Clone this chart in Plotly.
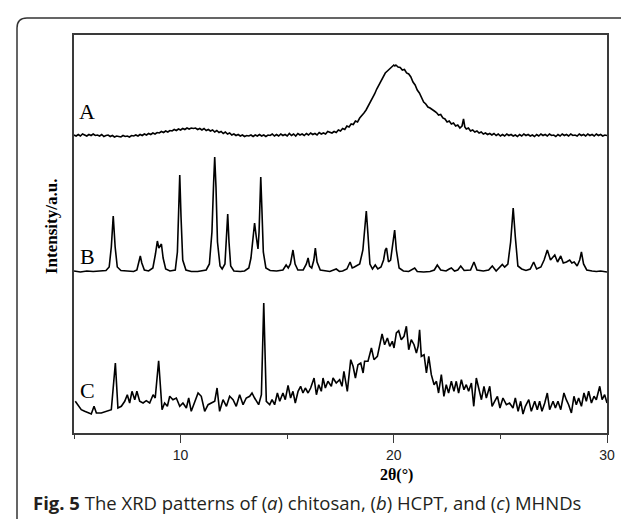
import plotly.graph_objects as go

# ---------------- data ----------------
# Pattern A (chitosan): 2theta and relative intensity above its own baseline
a_2theta = [5.0, 5.1, 5.2, 5.3, 5.4, 5.5, 5.6, 5.7, 5.8, 5.9, 6.0, 6.1, 6.2, 6.3, 6.4, 6.5, 6.6, 6.7, 6.8, 6.9,
            7.0, 7.1, 7.2, 7.3, 7.4, 7.5, 7.6, 7.7, 7.8, 7.9, 8.0, 8.1, 8.2, 8.3, 8.4, 8.5, 8.6, 8.7, 8.8, 8.9,
            9.0, 9.1, 9.2, 9.3, 9.4, 9.5, 9.6, 9.7, 9.8, 9.9, 10.0, 10.1, 10.2, 10.3, 10.4, 10.5, 10.6, 10.7,
            10.8, 10.9, 11.0, 11.1, 11.2, 11.3, 11.4, 11.5, 11.6, 11.7, 11.8, 11.9, 12.0, 12.1, 12.2, 12.3,
            12.4, 12.5, 12.6, 12.7, 12.8, 12.9, 13.0, 13.1, 13.2, 13.3, 13.4, 13.5, 13.6, 13.7, 13.8, 13.9,
            14.0, 14.1, 14.2, 14.3, 14.4, 14.5, 14.6, 14.7, 14.8, 14.9, 15.0, 15.1, 15.2, 15.3, 15.4, 15.5,
            15.6, 15.7, 15.8, 15.9, 16.0, 16.1, 16.2, 16.3, 16.4, 16.5, 16.6, 16.7, 16.8, 16.9,
            17.0, 17.1, 17.2, 17.3, 17.4, 17.5, 17.6, 17.7, 17.8, 17.9, 18.0, 18.1, 18.2, 18.3, 18.4, 18.5,
            18.6, 18.7, 18.8, 18.9, 19.0, 19.1, 19.2, 19.3, 19.4, 19.5, 19.6, 19.7, 19.8, 19.9, 20.0, 20.05,
            20.1, 20.2, 20.3, 20.4, 20.5, 20.6, 20.7, 20.8, 20.9, 21.0, 21.1, 21.2, 21.3, 21.4, 21.5, 21.6,
            21.7, 21.8, 21.9, 22.0, 22.1, 22.2, 22.3, 22.4, 22.5, 22.6, 22.7, 22.8, 22.9, 23.0, 23.1, 23.2,
            23.27, 23.33, 23.4, 23.5, 23.6, 23.7, 23.8, 23.9,
            24.0, 24.1, 24.2, 24.3, 24.4, 24.5, 24.6, 24.7, 24.8, 24.9, 25.0, 25.1, 25.2, 25.3, 25.4, 25.5,
            25.6, 25.7, 25.8, 25.9, 26.0, 26.1, 26.2, 26.3, 26.4, 26.5, 26.6, 26.7, 26.8, 26.9, 27.0, 27.1,
            27.2, 27.3, 27.4, 27.5, 27.6, 27.7, 27.8, 27.9, 28.0, 28.1, 28.2, 28.3, 28.4, 28.5, 28.6, 28.7,
            28.8, 28.9, 29.0, 29.1, 29.2, 29.3, 29.4, 29.5, 29.6, 29.7, 29.8, 29.9, 30.0]
a_intensity = [2, 1, 2.5, 1, 3, 2, 1, 2.5, 1.5, 3, 1.5, 2, 1, 2.5, 0.5, 1.5, 2, 0.5, 1.5, 0,
               1, 0.5, 0, 1.5, 0.5, 1, 0, 1.5, 1, 2, 1, 2.5, 1.5, 3, 2, 3.5, 2.5, 4, 3, 4.5,
               4, 5.5, 4.5, 6, 5, 6.5, 6, 7.5, 6.5, 8, 7, 8.5, 7.5, 9, 8, 9, 8.5, 9,
               7.5, 8.5, 7, 8.5, 6.5, 7.5, 6, 7, 5, 6.5, 4.5, 5.5, 3.5, 5, 3, 4,
               2, 3, 1.5, 2.5, 1, 2, 0.5, 1.5, 1, 2, 0.5, 2, 1, 2.5, 1, 2,
               0.5, 2, 1.5, 3, 1, 2.5, 1, 3, 1.5, 2.5, 1, 3.5, 1.5, 3, 1, 3.5,
               2, 3, 1.5, 3.5, 2, 4, 2.5, 3.5, 2, 4.5, 3, 4, 3, 5.5,
               5, 4, 5.5, 4.5, 7, 6, 8.5, 7.5, 11, 10, 13, 12.5, 16, 15, 19, 21,
               24, 27, 31, 34, 39, 43, 48, 52, 57, 60, 64, 66, 68, 70, 72, 71,
               72, 70, 69.5, 67, 67.5, 64, 63, 60, 55, 52, 47, 44, 40, 35, 33, 30,
               29, 27, 26, 24.5, 22, 22.5, 19, 18, 15, 16, 13, 14, 11, 12, 9, 11,
               18, 10, 8, 9, 6, 7, 5, 6,
               4, 5, 3, 4, 2.5, 3.5, 2, 3.5, 1.5, 3, 1, 2.5, 1, 3, 1.5, 2.5,
               1, 2, 0.5, 2.5, 1, 3, 1.5, 2.5, 1, 2, 0.5, 2.5, 1, 3, 1.5, 2.5,
               1, 3, 1.5, 2, 0.5, 2.5, 1, 3, 1.5, 2.5, 1, 3, 1.5, 2, 1, 3,
               1.5, 2.5, 1, 3, 1.5, 2.5, 1, 3, 1.5, 2.5, 1, 2, 1.5]

# Pattern B (HCPT): 2theta and relative intensity above its own baseline
b_2theta = [5.0, 5.3, 5.6, 5.9, 6.2, 6.5, 6.65, 6.75, 6.84, 6.93, 7.03, 7.2, 7.5, 7.8, 7.95, 8.05, 8.11, 8.18,
            8.3, 8.5, 8.7, 8.82, 8.91, 8.98, 9.05, 9.10, 9.18, 9.3, 9.5, 9.75, 9.85, 9.91, 9.96, 10.02, 10.1,
            10.25, 10.5, 10.8, 11.0, 11.2, 11.35, 11.47, 11.55, 11.60, 11.66, 11.73, 11.85, 11.95, 12.08, 12.15,
            12.21, 12.27, 12.35, 12.5, 12.8, 13.0, 13.2, 13.3, 13.4, 13.47, 13.55, 13.63, 13.68, 13.72, 13.76,
            13.81, 13.88, 14.0, 14.2, 14.5, 14.8, 14.95, 15.05, 15.15, 15.27, 15.37, 15.5, 15.75, 15.9, 15.98,
            16.05, 16.15, 16.25, 16.32, 16.4, 16.55, 16.8, 17.0, 17.3, 17.45, 17.6, 17.8, 17.95, 18.05, 18.15,
            18.24, 18.4, 18.55, 18.65, 18.71, 18.78, 18.88, 19.0, 19.13, 19.25, 19.4, 19.52, 19.6, 19.66, 19.75,
            19.85, 19.95, 20.04, 20.12, 20.25, 20.45, 20.7, 20.98, 21.1, 21.4, 21.7, 21.9, 22.04, 22.2, 22.45,
            22.6, 22.7, 22.85, 23.0, 23.14, 23.3, 23.6, 23.76, 23.9, 24.2, 24.45, 24.62, 24.8, 24.95, 25.09,
            25.2, 25.35, 25.48, 25.6, 25.7, 25.82, 26.0, 26.2, 26.4, 26.56, 26.7, 26.9, 27.05, 27.2, 27.35,
            27.45, 27.55, 27.68, 27.83, 27.95, 28.1, 28.25, 28.35, 28.46, 28.6, 28.72, 28.8, 28.9, 29.05, 29.3,
            29.5, 29.7, 30.0]
b_intensity = [1, 0, 1, 0.5, 1, 1.5, 5, 25, 56, 25, 5, 1.5, 1, 0.5, 2, 10, 16, 9,
               2, 1, 4, 18, 31, 24, 26, 28, 14, 3, 1, 2, 20, 60, 97, 55, 12,
               2, 0.5, 0.5, 1, 2, 8, 40, 90, 115, 85, 30, 6, 3, 8, 35,
               58, 30, 6, 1, 0.5, 1, 4, 14, 35, 49, 35, 23, 40, 75, 95,
               65, 20, 4, 1.5, 1, 2, 7, 4, 8, 22, 8, 2, 2, 8, 14,
               6, 4, 12, 24, 10, 2, 1, 0.5, 3, 0.5, 1, 3, 10, 4, 5,
               6, 8, 22, 45, 61, 40, 8, 3, 7, 3, 5, 12, 22, 24, 10,
               12, 30, 42, 22, 4, 1, 0.5, 4, 0.5, 0, 0.5, 2, 7, 2, 1,
               3, 4, 1, 2, 6, 1.5, 2, 10, 2, 1, 2, 6, 1, 4, 7.5,
               5, 8, 30, 64, 35, 6, 3, 1.5, 3, 10, 3, 5, 12, 22, 12,
               14, 17, 10, 16, 9, 10, 12, 9, 10, 6, 12, 20, 8, 2, 1,
               0.5, 1, 0]

# Pattern C (MHNDs): 2theta and intensity
c_2theta = [5.06, 5.19, 5.34, 5.50, 5.66, 5.81, 5.94, 6.05, 6.28, 6.52, 6.75, 6.94, 7.06, 7.22, 7.38, 7.50,
            7.61, 7.72, 7.85, 7.95, 8.08, 8.24, 8.39, 8.55, 8.71, 8.81, 8.97, 9.13, 9.25, 9.38, 9.49, 9.64,
            9.80, 9.96, 10.11, 10.27, 10.38, 10.50, 10.66, 10.82, 10.97, 11.13, 11.29, 11.44, 11.60, 11.71,
            11.83, 11.99, 12.15, 12.30, 12.46, 12.61, 12.77, 12.93, 13.08, 13.24, 13.35, 13.47, 13.66, 13.79,
            13.90, 14.02, 14.18, 14.29, 14.41, 14.54, 14.65, 14.80, 14.91, 15.04, 15.16, 15.27, 15.38, 15.51,
            15.63, 15.74, 15.85, 15.98, 16.10, 16.26, 16.37, 16.48, 16.60, 16.68, 16.79, 16.91, 17.07, 17.15,
            17.30, 17.46, 17.57, 17.66, 17.82, 17.98, 18.09, 18.20, 18.32, 18.45, 18.56, 18.63, 18.79,
            18.95, 19.07, 19.23, 19.34, 19.45, 19.57, 19.70, 19.81, 19.93, 20.01, 20.12, 20.23, 20.35, 20.48,
            20.59, 20.70, 20.82, 20.95, 21.06, 21.14, 21.21, 21.29, 21.42, 21.53, 21.64, 21.76, 21.89, 22.00,
            22.10, 22.23, 22.35, 22.46, 22.57, 22.70, 22.82, 22.93, 23.04, 23.17, 23.29, 23.40, 23.51, 23.64,
            23.75, 23.87, 23.98, 24.11, 24.23, 24.34, 24.50, 24.61, 24.73, 24.86, 24.98, 25.12, 25.28, 25.43,
            25.59, 25.70, 25.83, 25.95, 26.06, 26.17, 26.33, 26.45, 26.61, 26.73, 26.84, 26.95, 27.08, 27.20,
            27.31, 27.47, 27.58, 27.70, 27.83, 27.98, 28.09, 28.20, 28.33, 28.45, 28.56, 28.67, 28.80, 28.92,
            29.03, 29.14, 29.27, 29.39, 29.50, 29.66, 29.77, 29.89, 30.0]
c_intensity = [31.7, 28.3, 23.3, 21.7, 20, 19, 26.7, 20, 20, 21.7, 23.3, 70, 25, 26.7, 31.7, 38.3,
               30, 41.7, 33.3, 41.7, 31.7, 30, 32.3, 30, 38.3, 35, 72.3, 23.3, 30, 26.7, 36.7, 33.3,
               35, 26.7, 30, 25, 35, 21.7, 30, 40, 36.7, 21.7, 28.3, 30, 31.7, 45,
               21.7, 33.3, 26.7, 36.7, 33.3, 26.7, 38.3, 28.3, 35, 36.7, 40, 35, 28.3, 38.3,
               130, 31.7, 28.3, 33.3, 28.3, 40, 31.7, 40, 33.3, 47.7, 35, 41.7, 30, 41.7,
               46.7, 40, 45, 40, 45, 55, 38.3, 48.3, 41.7, 55, 45, 51.7, 46.7, 55,
               50, 53.3, 46.7, 61.7, 41.7, 73.3, 66.7, 55, 68.3, 70, 60, 71.7, 71.7,
               85, 73.3, 76.7, 88.3, 99, 88.3, 95, 86.7, 91.7, 85, 100, 102.3, 93.3, 96.7,
               106.7, 83.3, 93.3, 88.3, 80, 86.7, 103.3, 76.7, 78.3, 60, 76.7, 58.3, 48.3, 51.7,
               40, 58.3, 36.7, 48.3, 40, 51.7, 41.7, 51.7, 40, 53.3, 43.3, 48.3, 41.7, 50,
               26.7, 55, 45, 33.3, 46.7, 35, 46.7, 26.7, 31.7, 36.7, 25, 35, 28.3, 30,
               25, 35, 21.7, 31.7, 19, 26.7, 33.3, 21.7, 31.7, 23.3, 31.7, 21.7, 30, 40,
               23.3, 31.7, 25, 31.7, 23.3, 40, 33.3, 28.3, 20, 36.7, 28.3, 35, 26.7, 40,
               31.7, 41.7, 30, 36.7, 33.3, 46.7, 33.3, 38.3, 30]

pattern_labels = ["A", "B", "C"]
x_ticks = [10, 20, 30]
x_title = "2θ(°)"
y_title = "Intensity/a.u."
caption = ("<b>Fig. 5</b> The XRD patterns of (<i>a</i>) chitosan, (<i>b</i>) HCPT, "
           "and (<i>c</i>) MHNDs")

# vertical stacking offsets of the patterns
offsets = {"A": 296, "B": 161, "C": 0}

# ---------------- layout geometry ----------------
W, H = 629, 519
L, R, T, B = 66, 599, 27, 425


def px(xp):
    return (xp - L) / (R - L)


def py(yp):
    return (B - yp) / (B - T)


fig = go.Figure()
for xs, ys, key in [(a_2theta, a_intensity, "A"), (b_2theta, b_intensity, "B"), (c_2theta, c_intensity, "C")]:
    fig.add_trace(go.Scatter(x=xs, y=[v + offsets[key] for v in ys], mode="lines",
                             line=dict(color="black", width=1.6), showlegend=False, hoverinfo="skip"))

axis_color = "#3a3a3a"
fig.update_xaxes(range=[5, 30], tickvals=x_ticks, ticks="outside", ticklen=8, tickwidth=1.4,
                 tickcolor=axis_color, showline=True, linecolor=axis_color, linewidth=1.7, mirror=True,
                 showgrid=False, zeroline=False,
                 tickfont=dict(family="Liberation Sans, Arial", size=14, color="#222"),
                 minor=dict(tickvals=[5, 15, 25], ticks="outside", ticklen=4, tickwidth=1.4, tickcolor=axis_color))
fig.update_yaxes(range=[0, B - T], showticklabels=False, ticks="", showline=True, linecolor=axis_color,
                 linewidth=1.7, mirror=True, showgrid=False, zeroline=False)

annotations = []
label_pos = {"A": 103, "B": 248.5, "C": 382}
for lab in pattern_labels:
    annotations.append(dict(x=px(79), y=py(label_pos[lab]), xref="paper", yref="paper", text=lab,
                            showarrow=False, xanchor="center", yanchor="middle",
                            font=dict(family="Liberation Serif, Times New Roman", size=22, color="black")))
annotations.append(dict(x=px(43), y=py(219), xref="paper", yref="paper", text="<b>%s</b>" % y_title,
                        textangle=-90, showarrow=False, xanchor="center", yanchor="middle",
                        font=dict(family="Liberation Serif, Times New Roman", size=17, color="black")))
annotations.append(dict(x=px(388), y=py(467), xref="paper", yref="paper", text="<b>%s</b>" % x_title,
                        showarrow=False, xanchor="center", yanchor="middle",
                        font=dict(family="Liberation Serif, Times New Roman", size=16, color="black")))
annotations.append(dict(x=px(23), y=py(494), xref="paper", yref="paper", text=caption,
                        showarrow=False, xanchor="left", yanchor="middle",
                        font=dict(family="Open Sans", size=18.5, color="#231f20")))

border = "M {l},{b} L {l},{t1} Q {l},{t} {l1},{t} L {r1},{t} Q {r},{t} {r},{t1} L {r},{b}".format(
    l=px(9), r=px(627.5), t=py(10), b=py(530), t1=py(20), l1=px(19), r1=px(618))

fig.update_layout(width=W, height=H, autosize=False,
                  margin=dict(l=L, r=W - R, t=T, b=H - B),
                  paper_bgcolor="white", plot_bgcolor="white",
                  annotations=annotations,
                  shapes=[dict(type="path", path=border, xref="paper", yref="paper",
                               line=dict(color="#333", width=1.5))])

fig.write_html("out.html")
